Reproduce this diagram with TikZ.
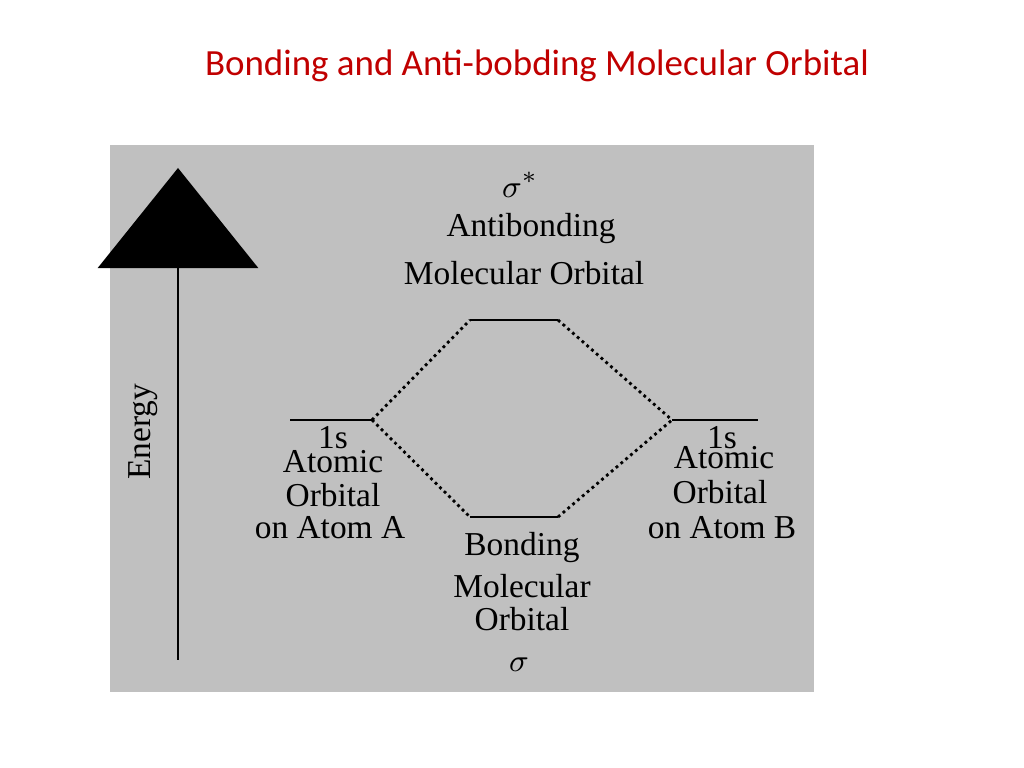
\documentclass[tikz,border=0pt]{standalone}
\usepackage{fontspec}
\setmainfont{Liberation Serif}
\newfontfamily\titlefont{Carlito}
\usetikzlibrary{arrows.meta}
\definecolor{panelgray}{RGB}{192,192,192}
\definecolor{titlered}{RGB}{192,0,0}
\tikzset{
    lbl/.style={inner sep=0pt, font=\fontsize{9.5}{10}\selectfont},
    level/.style={thick},
    link/.style={densely dotted, thick}
}
\begin{document}
\begin{tikzpicture}[x=0.01cm, y=-0.01cm]
    \useasboundingbox (0,0) rectangle (1024,768);
    \node[text=titlered, font=\titlefont\fontsize{10.5}{12}\selectfont] (title) at (537,66) {Bonding and Anti-bobding Molecular Orbital};
    \fill[panelgray] (110,145) rectangle (814,692);

    % energy axis
    \coordinate (axbot) at (178,660);
    \coordinate (axtop) at (178,168);
    \draw[thick, -{Triangle[length=1cm, width=1.6cm]}] (axbot) -- (axtop);
    \node[lbl, rotate=90] (energy) at (143,432) {Energy};

    % levels
    \coordinate (la) at (290,420); \coordinate (lb) at (372,420);
    \coordinate (ra) at (672,420); \coordinate (rb) at (758,420);
    \coordinate (ta) at (470,320); \coordinate (tb) at (558,320);
    \coordinate (ba) at (470,517); \coordinate (bb) at (558,517);
    \draw[level] (la) -- (lb);
    \draw[level] (ra) -- (rb);
    \draw[level] (ta) -- (tb);
    \draw[level] (ba) -- (bb);
    \draw[link] (lb) -- (ta);
    \draw[link] (lb) -- (ba);
    \draw[link] (tb) -- (ra);
    \draw[link] (bb) -- (ra);

    % labels
    \node[lbl] (sigstar) at (520,185) {$\sigma^*$};
    \node[lbl] (anti) at (531,229) {Antibonding};
    \node[lbl] (antimo) at (524,273) {Molecular Orbital};
    \node[lbl] (onesa) at (333,438) {1s};
    \node[lbl] (atoma) at (333,462) {Atomic};
    \node[lbl] (orba) at (333,495) {Orbital};
    \node[lbl] (atma) at (330,528) {on Atom A};
    \node[lbl] (onesb) at (722,438) {1s};
    \node[lbl] (atomb) at (724,458) {Atomic};
    \node[lbl] (orbb) at (720,492) {Orbital};
    \node[lbl] (atmb) at (722,528) {on Atom B};
    \node[lbl] (bond) at (522,548) {Bonding};
    \node[lbl] (bondmo) at (522,586) {Molecular};
    \node[lbl] (bondorb) at (522,619) {Orbital};
    \node[lbl] (sig) at (519,665) {$\sigma$};
\end{tikzpicture}
\end{document}
